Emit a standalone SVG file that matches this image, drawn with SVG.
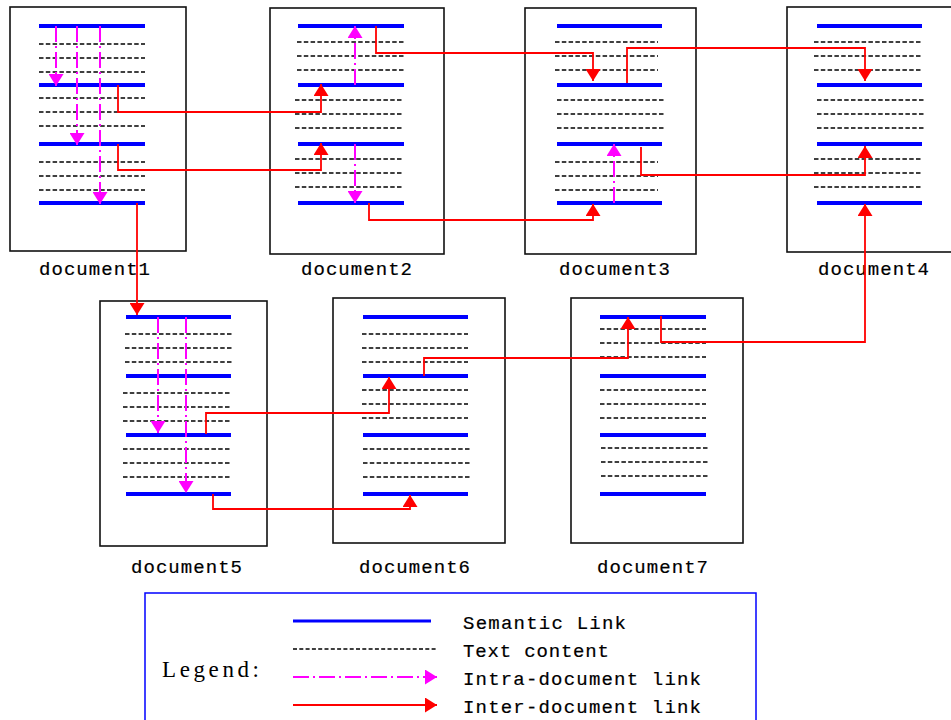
<svg xmlns="http://www.w3.org/2000/svg" width="951" height="720" viewBox="0 0 951 720">
  <style>
    .page { fill: #fff; stroke: #111; stroke-width: 1.6; }
    .sem { stroke: #0000ff; stroke-width: 4; fill: none; }
    .txt { stroke: #000; stroke-width: 1.5; stroke-dasharray: 4.5 2.3; fill: none; }
    .intra { stroke: #ff00ff; stroke-width: 2; stroke-dasharray: 16 4 2 4; fill: none; marker-end: url(#mArrow); }
    .inter { stroke: #ff0000; stroke-width: 1.8; fill: none; marker-end: url(#rArrow); }
    .label { font-family: "Liberation Mono", "DejaVu Sans Mono", monospace; font-size: 19px; fill: #000; stroke: #000; stroke-width: 0.2; }
    .legend-title { font-family: "Liberation Serif", "DejaVu Serif", serif; font-size: 23px; fill: #000; }
  </style>
  <defs>
    <marker id="rArrow" markerUnits="userSpaceOnUse" markerWidth="12" markerHeight="15" refX="12" refY="7.5" orient="auto">
      <path d="M0,0 L12,7.5 L0,15 Z" fill="#ff0000"/>
    </marker>
    <marker id="mArrow" markerUnits="userSpaceOnUse" markerWidth="12" markerHeight="15" refX="12" refY="7.5" orient="auto">
      <path d="M0,0 L12,7.5 L0,15 Z" fill="#ff00ff"/>
    </marker>
  </defs>

  <rect width="951" height="720" fill="#fff"/>

  <!-- documents -->
  <g id="document1">
    <rect class="page" x="10" y="7" width="176" height="244"/>
    <path class="sem" d="M39 26H145M39 85H145M39 144H145M39 203H145"/>
    <path class="txt" d="M39 44H145M39 58H145M39 72H145M39 98H145M39 112H145M39 126H145M39 162H145M39 176H145M39 190H145"/>
    <text class="label" x="39" y="275" textLength="111" lengthAdjust="spacing">document1</text>
  </g>

  <g id="document2">
    <rect class="page" x="270" y="8" width="174" height="246"/>
    <path class="sem" d="M298 26H404M298 85H404M298 144H404M298 203H404"/>
    <path class="txt" d="M297 42H404M297 56H404M297 70H404M295 100H402M295 114H402M295 128H402M295 159H402M295 173H402M295 187H402"/>
    <text class="label" x="301" y="275" textLength="111" lengthAdjust="spacing">document2</text>
  </g>

  <g id="document3">
    <rect class="page" x="525" y="8" width="171" height="246"/>
    <path class="sem" d="M557 26H662M557 85H662M557 144H662M557 203H662"/>
    <path class="txt" d="M555 42H658M555 56H658M555 70H658M557 100H664M557 114H664M557 128H664M555 162H658M555 176H658M555 190H658"/>
    <text class="label" x="559" y="275" textLength="111" lengthAdjust="spacing">document3</text>
  </g>

  <g id="document4">
    <rect class="page" x="787" y="7" width="175" height="245"/>
    <path class="sem" d="M817 26H922M817 85H922M817 144H922M817 203H922"/>
    <path class="txt" d="M814 42H921M814 56H921M814 70H921M817 100H924M817 114H924M817 128H924M814 159H921M814 173H921M814 187H921"/>
    <text class="label" x="818" y="275" textLength="111" lengthAdjust="spacing">document4</text>
  </g>

  <g id="document5">
    <rect class="page" x="100" y="301" width="167" height="245"/>
    <path class="sem" d="M126 317H231M126 376H231M126 435H231M126 494H231"/>
    <path class="txt" d="M125 334H232M125 348H232M125 362H232M123 393H230M123 407H230M123 421H230M123 449H230M123 463H230M123 477H230"/>
    <text class="label" x="131" y="573" textLength="111" lengthAdjust="spacing">document5</text>
  </g>

  <g id="document6">
    <rect class="page" x="333" y="298" width="172" height="245"/>
    <path class="sem" d="M363 317H468M363 376H468M363 435H468M363 494H468"/>
    <path class="txt" d="M362 334H468M362 348H468M362 362H468M362 390H468M362 404H468M362 418H468M363 449H471M363 463H471M363 477H471"/>
    <text class="label" x="359" y="573" textLength="111" lengthAdjust="spacing">document6</text>
  </g>

  <g id="document7">
    <rect class="page" x="571" y="298" width="172" height="245"/>
    <path class="sem" d="M600 317H706M600 376H706M600 435H706M600 494H706"/>
    <path class="txt" d="M600 329H706M600 343H706M600 357H706M600 390H706M600 404H706M600 418H706M601 448H708M601 462H708M601 476H708"/>
    <text class="label" x="597" y="573" textLength="111" lengthAdjust="spacing">document7</text>
  </g>

  <!-- links -->
  <g id="connectors">
    <!-- within a document -->
    <path class="intra" d="M56 26V86"/>
    <path class="intra" d="M77 26V145"/>
    <path class="intra" d="M100 26V204"/>
    <path class="intra" d="M355 85V26"/>
    <path class="intra" d="M355 144V203"/>
    <path class="intra" d="M614 203V144"/>
    <path class="intra" d="M158 317V433"/>
    <path class="intra" d="M186 317V493"/>
    <!-- between documents -->
    <path class="inter" d="M118 85V112H321V84"/>
    <path class="inter" d="M118 144V170H321V143"/>
    <path class="inter" d="M137 203V315"/>
    <path class="inter" d="M376 26V53H593V81"/>
    <path class="inter" d="M369 203V220H593V204"/>
    <path class="inter" d="M627 83V48H865V81"/>
    <path class="inter" d="M641 147V175H865V146"/>
    <path class="inter" d="M661 316V342H865V204"/>
    <path class="inter" d="M206 434V413H389V377"/>
    <path class="inter" d="M213 494V509H410V495"/>
    <path class="inter" d="M424 376V358H628V317"/>
  </g>

  <!-- legend -->
  <g id="legend">
    <rect x="145" y="593" width="611" height="140" fill="#fff" stroke="#0000ff" stroke-width="1.5"/>
    <text class="legend-title" x="162" y="677" textLength="97" lengthAdjust="spacing">Legend:</text>
    <path d="M293 621H431" stroke="#0000ff" stroke-width="3" fill="none"/>
    <path d="M293 649H437" stroke="#000" stroke-width="1.3" stroke-dasharray="4 2.3" fill="none"/>
    <path class="intra" d="M293 677H437"/>
    <path class="inter" d="M293 705H437"/>
    <text class="label" x="463" y="629" textLength="163" lengthAdjust="spacing">Semantic Link</text>
    <text class="label" x="463" y="657" textLength="146" lengthAdjust="spacing">Text content</text>
    <text class="label" x="463" y="685" textLength="238" lengthAdjust="spacing">Intra-document link</text>
    <text class="label" x="463" y="713" textLength="238" lengthAdjust="spacing">Inter-document link</text>
  </g>
</svg>
